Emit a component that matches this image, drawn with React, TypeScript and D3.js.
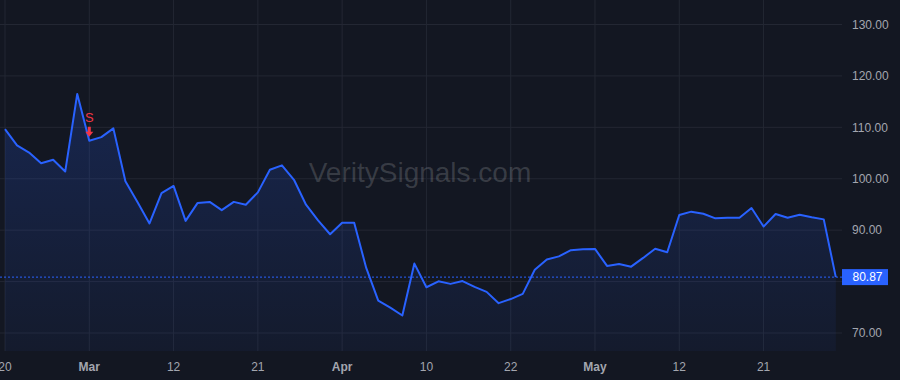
import React from "react";
import * as d3 from "d3";

const values: number[] = [
  109.65, 106.5, 105.1, 103.0, 103.7, 101.4, 116.5, 107.4, 108.1, 109.8,
  99.5, 95.5, 91.3, 97.2, 98.6, 91.8, 95.3, 95.5, 93.9, 95.5,
  94.95, 97.35, 101.75, 102.6, 99.8, 94.95, 91.9, 89.2, 91.45, 91.45,
  82.65, 76.3, 74.95, 73.4, 83.5, 78.9, 80.06, 79.55, 80.1, 78.97,
  78.0, 75.8, 76.6, 77.6, 82.3, 84.3, 84.9, 86.1, 86.3, 86.35,
  83.05, 83.4, 82.9, 84.6, 86.4, 85.7, 92.95, 93.6, 93.2, 92.3,
  92.4, 92.4, 94.3, 90.7, 93.15, 92.4, 93.0, 92.5, 92.1, 80.87,
];

const xTickIndex: number[] = [0, 7, 14, 21, 28, 35, 42, 49, 56, 63];
const xTickLabels: string[] = ["20", "Mar", "12", "21", "Apr", "10", "22", "May", "12", "21"];
const yTicks: number[] = [70, 80, 90, 100, 110, 120, 130];
const signalIndex: number[] = [7];
const signalLabels: string[] = ["S"];
const lastPrice = values[values.length - 1];

const W = 900;
const H = 380;
const plotRight = 842;
const plotBottom = 351;
const BG = "#131722";
const GRID = "#232733";
const LINE = "#2962ff";
const TEXT = "#a3a6af";
const RED = "#f23645";
const FONT = "'Liberation Sans', Arial, Helvetica, sans-serif";

export default function App() {
  const x = d3.scaleLinear().domain([0, values.length - 1]).range([5, 835.8]);
  const y = d3.scaleLinear().domain([70, 130]).range([333, 24.5]);

  const line = d3
    .line<number>()
    .x((_, i) => x(i))
    .y((d) => y(d));
  const area = d3
    .area<number>()
    .x((_, i) => x(i))
    .y0(plotBottom)
    .y1((d) => y(d));

  const topY = y(d3.max(values) as number);
  const priceY = y(lastPrice);

  return (
    <svg
      width={W}
      height={H}
      style={{ position: "fixed", left: 0, top: 0, display: "block" }}
      fontFamily={FONT}
    >
      <defs>
        <linearGradient id="fillGrad" gradientUnits="userSpaceOnUse" x1={0} x2={0} y1={topY} y2={plotBottom}>
          <stop offset="0%" stopColor={LINE} stopOpacity={0.2} />
          <stop offset="100%" stopColor={LINE} stopOpacity={0.05} />
        </linearGradient>
        <clipPath id="plotClip">
          <rect x={0} y={0} width={plotRight} height={plotBottom} />
        </clipPath>
      </defs>
      <rect x={0} y={0} width={W} height={H} fill={BG} />

      {/* grid */}
      {yTicks.map((t) => (
        <line key={"gy" + t} x1={0} x2={plotRight} y1={y(t)} y2={y(t)} stroke={GRID} strokeWidth={1} />
      ))}
      {xTickIndex.map((t) => (
        <line key={"gx" + t} x1={x(t)} x2={x(t)} y1={0} y2={plotBottom} stroke={GRID} strokeWidth={1} />
      ))}

      {/* watermark */}
      <text x={420} y={181.5} textAnchor="middle" fontSize={28} fill="#ffffff" fillOpacity={0.16}>
        VeritySignals.com
      </text>

      <g clipPath="url(#plotClip)">
        <path d={area(values) || ""} fill="url(#fillGrad)" />
        <line
          x1={0}
          x2={plotRight}
          y1={priceY}
          y2={priceY}
          stroke={LINE}
          strokeWidth={1}
          strokeDasharray="2 2"
        />
        <path d={line(values) || ""} fill="none" stroke={LINE} strokeWidth={2} strokeLinejoin="round" />
      </g>

      {/* signals */}
      {signalIndex.map((si, k) => {
        const cx = x(si);
        const py = y(values[si]);
        const tip = py - 4;
        return (
          <g key={"sig" + k}>
            <text x={cx} y={122} textAnchor="middle" fontSize={13} fill={RED}>
              {signalLabels[k]}
            </text>
            <path
              d={`M${cx - 1.5},${tip - 10} L${cx + 1.5},${tip - 10} L${cx + 1.5},${tip - 5} L${cx + 4},${tip - 5} L${cx},${tip} L${cx - 4},${tip - 5} L${cx - 1.5},${tip - 5} Z`}
              fill={RED}
            />
          </g>
        );
      })}

      {/* y axis labels (hidden where the price label sits) */}
      {yTicks
        .filter((t) => Math.abs(y(t) - priceY) > 14)
        .map((t) => (
          <text key={"yl" + t} x={852} y={y(t)} dy="0.35em" fontSize={12} fill={TEXT}>
            {t.toFixed(2)}
          </text>
        ))}

      {/* last price label */}
      <rect x={842} y={priceY - 8} width={46} height={16} fill={LINE} />
      <text x={852.5} y={priceY} dy="0.35em" fontSize={12} fill="#ffffff">
        {lastPrice.toFixed(2)}
      </text>

      {/* x axis labels */}
      {xTickIndex.map((t, i) => {
        const lbl = xTickLabels[i];
        const isMonth = isNaN(Number(lbl));
        return (
          <text
            key={"xl" + i}
            x={x(t)}
            y={371}
            textAnchor="middle"
            fontSize={12}
            fontWeight={isMonth ? "bold" : "normal"}
            fill={TEXT}
          >
            {lbl}
          </text>
        );
      })}
    </svg>
  );
}
